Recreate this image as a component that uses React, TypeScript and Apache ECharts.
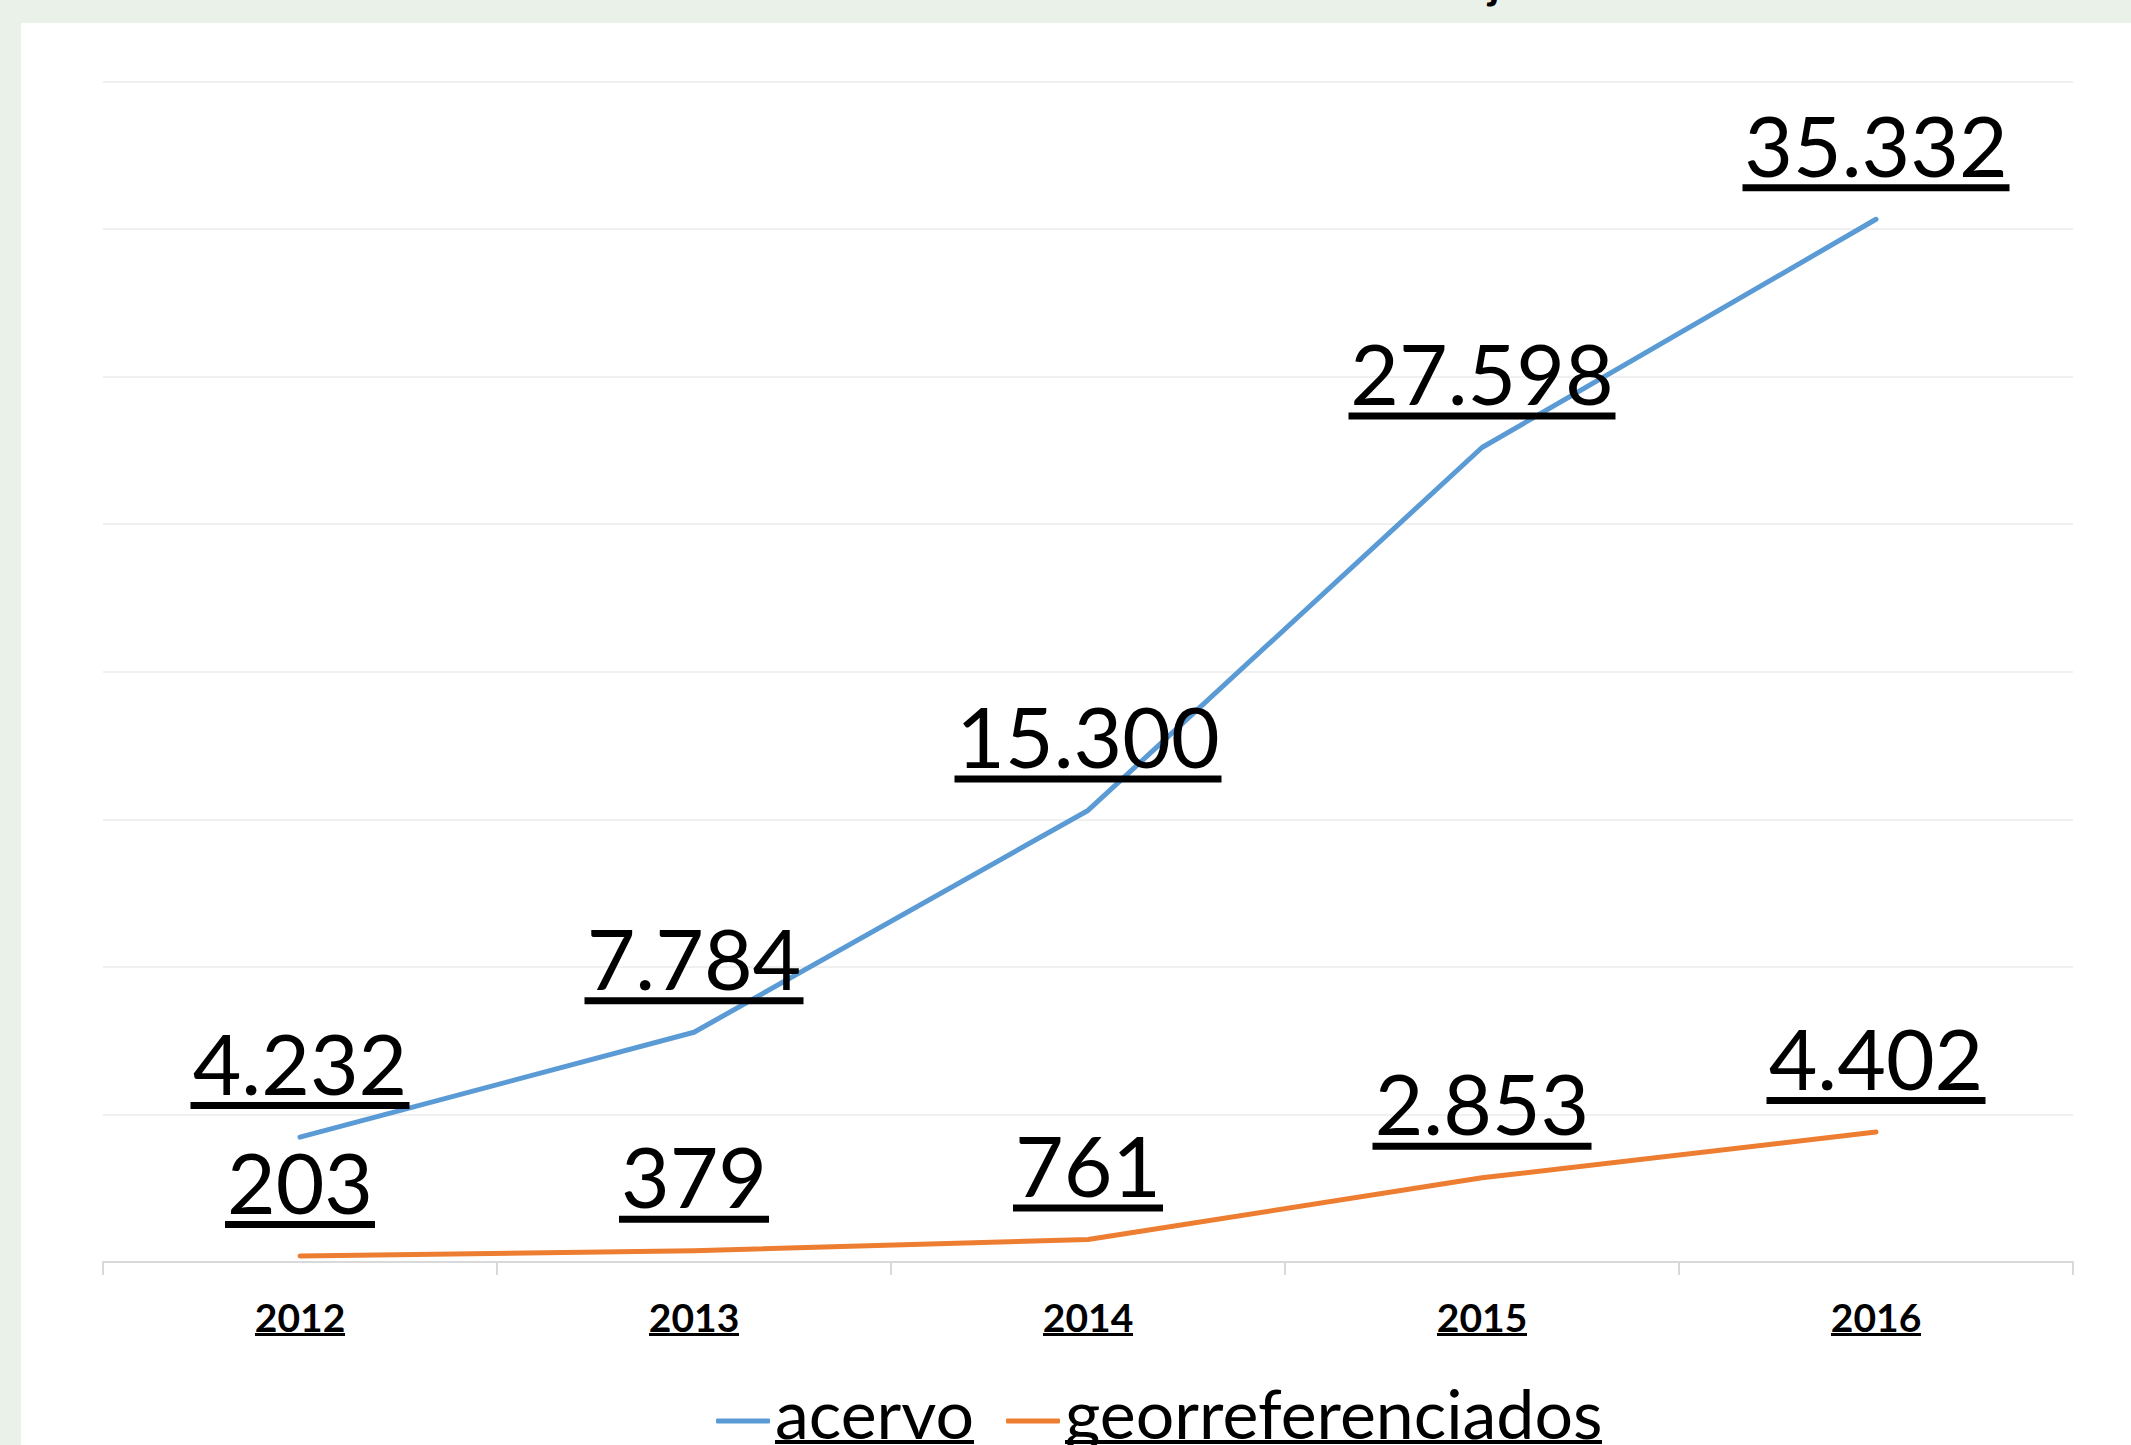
import React, { useEffect, useRef } from 'react';
import * as echarts from 'echarts';

const years = ['2012', '2013', '2014', '2015', '2016'];
const acervo = [4232, 7784, 15300, 27598, 35332];
const georref = [203, 379, 761, 2853, 4402];
const seriesNames = ['acervo', 'georreferenciados'];
const yMax = 40000;
const yInterval = 5000;

const W = 2131;
const H = 1445;
const BLUE = '#5B9BD5';
const ORANGE = '#ED7D31';
const BAND = '#EAF1E9';
const FONT = 'Lato';
const VAL_SIZE = 84;
const VAL_LH = 80;
const CAT_SIZE = 39;
const LEG_SIZE = 68;

function fmt(v: number): string {
  return String(v).replace(/\B(?=(\d{3})+(?!\d))/g, '.');
}

function measure(text: string, font: string): number {
  const ctx = document.createElement('canvas').getContext('2d') as CanvasRenderingContext2D;
  ctx.font = font;
  return ctx.measureText(text).width;
}

function valueItems(values: number[]) {
  return values.map((v) => ({
    value: v,
    label: {
      rich: {
        v: { fontFamily: FONT, fontSize: VAL_SIZE, lineHeight: VAL_LH, color: '#000', align: 'center' },
        u: {
          width: Math.round(measure(fmt(v), `${VAL_SIZE}px ${FONT}`)) + 4,
          height: 7,
          backgroundColor: '#000',
          align: 'center',
        },
      },
    },
  }));
}

export default function App() {
  const ref = useRef<HTMLDivElement>(null);

  useEffect(() => {
    if (!ref.current) return;
    const chart = echarts.init(ref.current, null, { renderer: 'svg', width: W, height: H });

    const catRich: any = {
      v: { fontFamily: FONT, fontSize: CAT_SIZE, fontWeight: 'bold', lineHeight: 33, color: '#000', align: 'center' },
    };
    years.forEach((y, i) => {
      catRich['u' + i] = {
        width: Math.round(measure(y, `bold ${CAT_SIZE}px ${FONT}`)),
        height: 3,
        backgroundColor: '#000',
        align: 'center',
      };
    });

    const legRich: any = {
      t: { fontFamily: FONT, fontSize: LEG_SIZE, lineHeight: 56, color: '#000' },
      s: { height: 14 },
    };
    seriesNames.forEach((n, i) => {
      legRich['u' + i] = {
        width: Math.round(measure(n, `${LEG_SIZE}px ${FONT}`)),
        height: 4,
        backgroundColor: '#000',
      };
    });

    const lineSeries = (name: string, color: string, values: number[]) => ({
      name,
      type: 'line',
      data: valueItems(values),
      symbol: 'circle',
      symbolSize: 2,
      itemStyle: { color },
      lineStyle: { color, width: 5, cap: 'round', join: 'round' },
      label: {
        show: true,
        position: 'top',
        distance: 27,
        formatter: (p: any) => `{v|${fmt(p.value)}}\n{u|}`,
      },
      emphasis: { disabled: true },
    });

    chart.setOption({
      animation: false,
      backgroundColor: '#ffffff',
      graphic: [
        { type: 'rect', shape: { x: 0, y: 0, width: W, height: 23 }, style: { fill: BAND }, silent: true },
        { type: 'rect', shape: { x: 0, y: 0, width: 21, height: H }, style: { fill: BAND }, silent: true },
        {
          type: 'text',
          x: 1494,
          y: -40,
          style: { text: 'j', font: `bold 44px ${FONT}`, fill: '#000', textAlign: 'center', textVerticalAlign: 'top' },
          silent: true,
        },
      ],
      grid: { left: 103, right: 58, top: 81.5, bottom: 183, outerBoundsMode: 'none', containLabel: false },
      legend: {
        left: 716,
        top: 1378,
        padding: 0,
        itemGap: 32,
        itemWidth: 54,
        itemHeight: 5,
        icon: 'roundRect',
        data: [
          { name: seriesNames[0], itemStyle: { color: BLUE } },
          { name: seriesNames[1], itemStyle: { color: ORANGE } },
        ],
        formatter: (name: string) => {
          const i = seriesNames.indexOf(name);
          return `{t|${name}}\n{u${i}|}\n{s|}`;
        },
        textStyle: { rich: legRich },
      },
      xAxis: {
        type: 'category',
        data: years,
        boundaryGap: true,
        axisLine: { show: true, lineStyle: { color: '#D9D9D9', width: 2 } },
        axisTick: { show: true, length: 13, lineStyle: { color: '#D9D9D9', width: 2 } },
        axisLabel: {
          margin: 38,
          formatter: (v: string) => `{v|${v}}\n{u${years.indexOf(v)}|}`,
          rich: catRich,
        },
        splitLine: { show: false },
      },
      yAxis: {
        type: 'value',
        min: 0,
        max: yMax,
        interval: yInterval,
        axisLine: { show: false },
        axisTick: { show: false },
        axisLabel: { show: false },
        splitLine: { show: true, lineStyle: { color: '#F0F0F0', width: 2 } },
      },
      series: [lineSeries(seriesNames[0], BLUE, acervo), lineSeries(seriesNames[1], ORANGE, georref)],
    });

    return () => {
      chart.dispose();
    };
  }, []);

  return <div ref={ref} style={{ position: 'absolute', left: 0, top: 0, width: W, height: H }} />;
}
